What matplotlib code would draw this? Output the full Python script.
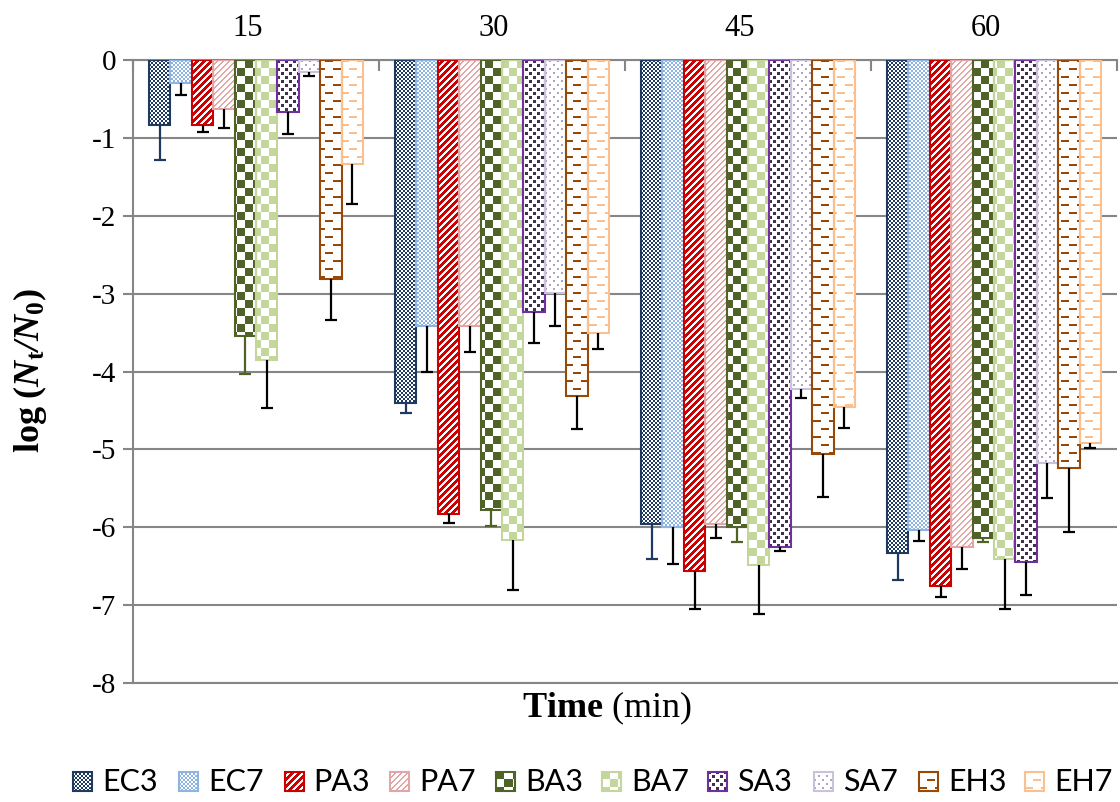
import numpy as np
import matplotlib
matplotlib.use("Agg")
import matplotlib.pyplot as plt
from matplotlib.path import Path
from matplotlib.patches import Rectangle
from matplotlib.colors import to_rgb
from matplotlib.transforms import ScaledTranslation

# ---------------- data ----------------
times = ["15", "30", "45", "60"]
series = ["EC3", "EC7", "PA3", "PA7", "BA3", "BA7", "SA3", "SA7", "EH3", "EH7"]
yticks = [-8, -7, -6, -5, -4, -3, -2, -1, 0]

ec3 = [-0.84, -4.40, -5.96, -6.33]
ec7 = [-0.29, -3.42, -6.00, -6.04]
pa3 = [-0.83, -5.83, -6.56, -6.76]
pa7 = [-0.63, -3.42, -5.96, -6.26]
ba3 = [-3.54, -5.78, -6.00, -6.14]
ba7 = [-3.85, -6.16, -6.49, -6.41]
sa3 = [-0.67, -3.23, -6.26, -6.45]
sa7 = [-0.15, -2.99, -4.23, -5.17]
eh3 = [-2.81, -4.32, -5.06, -5.24]
eh7 = [-1.33, -3.51, -4.46, -4.92]

ec3_err = [0.44, 0.13, 0.45, 0.35]
ec7_err = [0.16, 0.58, 0.47, 0.14]
pa3_err = [0.10, 0.11, 0.49, 0.14]
pa7_err = [0.24, 0.33, 0.18, 0.28]
ba3_err = [0.49, 0.21, 0.19, 0.05]
ba7_err = [0.62, 0.64, 0.63, 0.64]
sa3_err = [0.28, 0.40, 0.05, 0.42]
sa7_err = [0.06, 0.43, 0.11, 0.45]
eh3_err = [0.53, 0.42, 0.55, 0.82]
eh7_err = [0.52, 0.20, 0.26, 0.06]

values = [ec3, ec7, pa3, pa7, ba3, ba7, sa3, sa7, eh3, eh7]
errors = [ec3_err, ec7_err, pa3_err, pa7_err, ba3_err, ba7_err,
          sa3_err, sa7_err, eh3_err, eh7_err]

# ---------------- styles ----------------
# (pattern, pattern colour, edge colour, error bar colour)
styles = [
    ("fine", "#1F3A60", "#1F3A60", "#1F3A60"),
    ("fine", "#8DB4E2", "#8DB4E2", "black"),
    ("wide", "#CC0000", "#CC0000", "black"),
    ("light", "#E6A5A5", "#E6A5A5", "black"),
    ("check", "#4F6228", "#4F6228", "#4F6228"),
    ("check", "#C3D69B", "#C3D69B", "black"),
    ("squares", "#403151", "#7030A0", "black"),
    ("dots", "#B3A2C7", "#CCC1DA", "black"),
    ("dash", "#984807", "#984807", "black"),
    ("dash", "#FAC090", "#FAC090", "black"),
]

GRAY = "#868686"
SERIF = "Liberation Serif"

plt.rcParams["font.family"] = SERIF
plt.rcParams["axes.unicode_minus"] = False
plt.rcParams["mathtext.fontset"] = "custom"
plt.rcParams["mathtext.rm"] = SERIF
plt.rcParams["mathtext.bf"] = SERIF + ":bold"
plt.rcParams["mathtext.it"] = SERIF + ":italic"
plt.rcParams["mathtext.bfit"] = SERIF + ":bold:italic"


def pattern_img(kind, color, h, w):
    yy, xx = np.mgrid[0:h, 0:w]
    if kind == "fine":
        mask = ((xx // 2 + yy // 2) % 2) == 0
    elif kind == "check":
        mask = ((xx // 8 + yy // 8) % 2) == 0
    elif kind == "wide":
        mask = ((xx + yy) % 7) < 4
    elif kind == "light":
        mask = ((xx + yy) % 6) < 2
    elif kind == "squares":
        mask = ((xx % 8 < 3) & (yy % 8 < 3)) | (((xx + 4) % 8 < 3) & ((yy + 4) % 8 < 3))
    elif kind == "dots":
        mask = ((xx % 8 < 2) & (yy % 8 < 2)) | (((xx + 4) % 8 < 2) & ((yy + 4) % 8 < 2))
    else:  # dash
        shift = ((yy // 8) % 2) * 8
        mask = ((yy % 8) < 2) & (((xx + shift) % 16) < 8)
    img = np.full((h, w, 4), 255, dtype=np.uint8)
    rgb = (np.array(to_rgb(color)) * 255).astype(np.uint8)
    img[mask, :3] = rgb
    return img


# ---------------- figure ----------------
W, H = 1120, 802
fig = plt.figure(figsize=(W / 100, H / 100), dpi=100)
ax_l, ax_r, ax_t, ax_b = 133, 1117, 60, 683
ax = fig.add_axes([ax_l / W, 1 - ax_b / H, (ax_r - ax_l) / W, (ax_b - ax_t) / H])

n = len(series)
bw = 1 / (n + 1.5)
xc = np.arange(len(times))

for i, (name, vals, errs, st) in enumerate(zip(series, values, errors, styles)):
    kind, pcol, ecol, errcol = st
    x = xc + (i - (n - 1) / 2) * bw
    vals = np.array(vals)
    errs = np.array(errs)
    bars = ax.bar(x, vals, width=bw, facecolor="none", edgecolor=ecol,
                  linewidth=1.5, zorder=3)
    img = pattern_img(kind, pcol, ax_b - ax_t, ax_r - ax_l)
    im = ax.imshow(img, extent=(-0.5, len(times) - 0.5, -8, 0), origin="upper",
                   interpolation="nearest", aspect="auto", zorder=2)
    paths = [b.get_path().transformed(b.get_patch_transform()) for b in bars]
    im.set_clip_path(Path.make_compound_path(*paths), ax.transData)
    # minus-only error bars
    ax.vlines(x, vals, vals - errs, colors=errcol, linewidth=1.6, zorder=4)
    ax.plot(x, vals - errs, linestyle="none", marker="_", markersize=8.5,
            markeredgewidth=1.6, color=errcol, zorder=4)

ax.set_xlim(-0.5, len(times) - 0.5)
ax.set_ylim(-8, 0)

# axes styling
ax.set_axisbelow(True)
ax.yaxis.grid(True, color=GRAY, linewidth=1.5)
ax.xaxis.tick_top()
ax.set_xticks(xc, labels=times, fontfamily=SERIF)
ax.set_xticks(np.arange(-0.5, len(times), 1), minor=True)
ax.tick_params(axis="x", which="major", length=0, pad=12, labelsize=22)
ax.tick_params(axis="x", which="minor", direction="in", length=8, width=1.5,
               color=GRAY)
for lab in ax.get_xticklabels():
    lab.set_transform(lab.get_transform() + ScaledTranslation(-0.08, 0, fig.dpi_scale_trans))
ax.set_yticks(yticks, labels=[str(v) for v in yticks], fontfamily=SERIF)
ax.tick_params(axis="y", direction="out", length=7, width=1.5, color=GRAY,
               labelsize=21, pad=5)
for side in ["top", "left", "bottom"]:
    ax.spines[side].set_color(GRAY)
    ax.spines[side].set_linewidth(1.5)
ax.spines["right"].set_visible(False)

fig.text(30 / W, 1 - 371 / H,
         r"$\mathbf{log\ (}\mathbfit{N}_\mathbf{t}\mathbfit{/N}_\mathbf{0}\mathbf{)}$",
         rotation=90, ha="center", va="center", fontsize=26)
fig.text(607 / W, 1 - 708 / H, r"$\mathbf{Time}$ (min)", ha="center",
         va="center", fontsize=26)

# ---------------- legend ----------------
lax = fig.add_axes([0, 0, 1, 60 / H])
lax.set_xlim(0, W)
lax.set_ylim(H, H - 60)
lax.axis("off")
sq = 19
ly = 781
for i, (name, st) in enumerate(zip(series, styles)):
    kind, pcol, ecol, errcol = st
    x0 = 73 + i * 105.8
    lim = lax.imshow(pattern_img(kind, pcol, sq, sq),
                     extent=(x0, x0 + sq, ly + sq / 2, ly - sq / 2),
                     origin="upper", interpolation="nearest", aspect="auto")
    r = Rectangle((x0, ly - sq / 2), sq, sq, fill=False, edgecolor=ecol, linewidth=1.5)
    lax.add_patch(r)
    lim.set_clip_path(r)
    lax.text(x0 + sq + 10, ly + 1, name, va="center", ha="left", fontsize=22,
             family="Lato", color="black")
lax.set_xlim(0, W)
lax.set_ylim(H, H - 60)

fig.savefig("out.png", dpi=100)
